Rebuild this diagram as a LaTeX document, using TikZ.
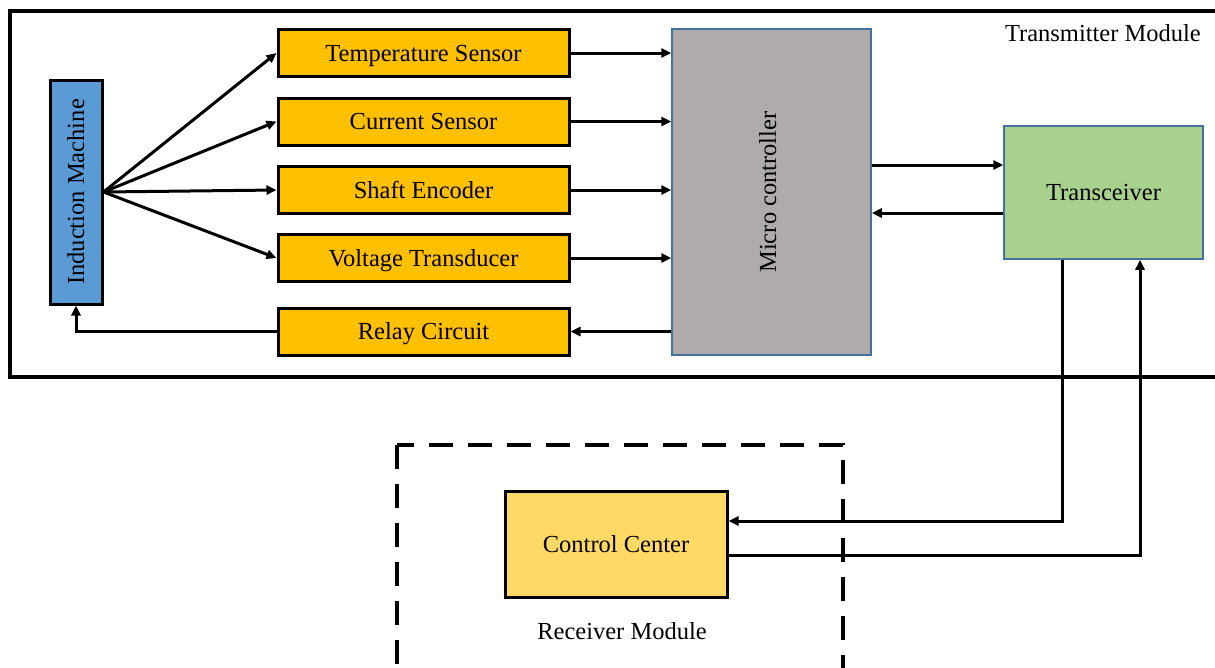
\documentclass[tikz,border=0pt]{standalone}
\usepackage{fontspec}
\setmainfont{Liberation Serif}
\usetikzlibrary{arrows.meta,calc}
\definecolor{imblue}{HTML}{5B9BD5}
\definecolor{sensorgold}{HTML}{FFC000}
\definecolor{mcgray}{HTML}{AFABAB}
\definecolor{trgreen}{HTML}{A9D18E}
\definecolor{ccyellow}{HTML}{FFD966}
\definecolor{thinblue}{HTML}{41719C}
\tikzset{
  txt/.style={font=\fontsize{24.5}{28}\selectfont, text height=18pt, text depth=2pt},
  blk/.style={draw=black, line width=3pt, inner sep=0pt, txt},
  sensorbox/.style={blk, fill=sensorgold, minimum width=291pt, minimum height=47pt},
  thinbox/.style={draw=thinblue, line width=1.5pt, inner sep=0pt, txt},
  conn/.style={line width=3pt, -{Triangle[length=10pt,width=9pt]}},
  lbl/.style={txt, inner sep=0pt}
}
\begin{document}
\begin{tikzpicture}[x=1pt,y=-1pt]
\useasboundingbox (0,0) rectangle (1215,667);
\clip (0,0) rectangle (1215,667);
% transmitter frame
\draw[line width=3.4pt] (10,11) rectangle (1240,377);
\node[lbl, anchor=east] (txlabel) at (1201,33) {Transmitter Module};
% receiver frame
\draw[line width=3.4pt, dash pattern=on 24pt off 15pt] (397,445) rectangle (843,690);
\node[lbl] (rxlabel) at (622,631) {Receiver Module};
% nodes
\node[blk, fill=imblue, minimum width=52pt, minimum height=224pt] (im) at (76,192) {};
\node[lbl, rotate=90] (imtext) at (im.center) {Induction Machine};
\node[sensorbox] (temp) at (423.5,53) {Temperature Sensor};
\node[sensorbox] (curr) at (423.5,121.5) {Current Sensor};
\node[sensorbox] (shaft) at (423.5,190) {Shaft Encoder};
\node[sensorbox] (volt) at (423.5,258) {Voltage Transducer};
\node[sensorbox] (relay) at (423.5,331.5) {Relay Circuit};
\node[thinbox, fill=mcgray, minimum width=199pt, minimum height=326pt] (mc) at (771.5,192) {};
\node[lbl, rotate=90] (mctext) at (768,192) {Micro controller};
\node[thinbox, fill=trgreen, minimum width=199pt, minimum height=133pt] (tr) at (1103.5,192.5) {Transceiver};
\node[blk, fill=ccyellow, minimum width=222pt, minimum height=106pt] (cc) at (616,544) {Control Center};
% connectors
\foreach \s in {temp,curr,shaft,volt}{
  \draw[conn] (im.east) -- (\s.west);
  \draw[conn] (\s.east) -- (\s.east -| mc.west);
}
\draw[conn] (relay.west) -| (im.south);
\draw[conn] (relay.east -| mc.west) -- (relay.east);
\draw[conn] ($(mc.east)+(0,-27)$) -- ($(tr.west)+(0,-27.5)$);
\draw[conn] ($(tr.west)+(0,20.5)$) -- ($(mc.east)+(0,21)$);
\coordinate (down1) at ($(tr.south)+(-41.5,0)$);
\coordinate (up1) at ($(tr.south)+(36.5,0)$);
\coordinate (ccin) at ($(cc.east)+(0,-23)$);
\coordinate (ccout) at ($(cc.east)+(0,11)$);
\draw[conn] (down1) |- (ccin);
\draw[conn] (ccout) -| (up1);
\end{tikzpicture}
\end{document}
